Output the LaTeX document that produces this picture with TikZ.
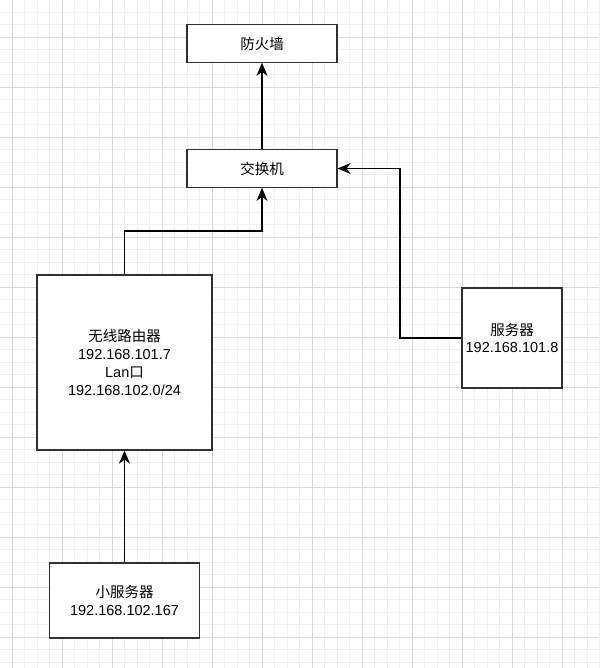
\documentclass[tikz,border=0pt]{standalone}
\usepackage{fontspec}
\setmainfont{Liberation Sans}
\newfontfamily\cjk{Noto Sans CJK SC}
\usetikzlibrary{arrows.meta}
\definecolor{gridminor}{HTML}{F0F0F0}
\definecolor{gridmajor}{HTML}{D9D9D9}
\definecolor{edge}{HTML}{303030}
\begin{document}
\begin{tikzpicture}[
	x=1pt, y=-1pt,
	box/.style={draw=edge, line width=1.2pt, fill=white, inner sep=0pt,
		align=center, font=\fontsize{14.5}{17.8}\selectfont},
	link/.style={draw=black, line width=1.2pt,
		arrows={-Stealth[length=13pt,width=11pt,inset=4pt]}},
	minor/.style={draw=gridminor, line width=0.8pt},
	major/.style={draw=gridmajor, line width=0.8pt},
]
\useasboundingbox (0,0) rectangle (599,668);
\fill[white] (0,0) rectangle (599,668);
% background grid
\foreach \i in {0,...,48} {
	\draw[minor] ({-0.5+12.5*\i},0) -- ({-0.5+12.5*\i},668);
}
\foreach \i in {0,...,54} {
	\draw[minor] (0,{-0.5+12.5*\i}) -- (599,{-0.5+12.5*\i});
}
\foreach \i in {0,...,11} {
	\draw[major] ({12+50*\i},0) -- ({12+50*\i},668);
}
\foreach \i in {0,...,12} {
	\draw[major] (0,{37+50*\i}) -- (599,{37+50*\i});
}
% devices
\node[box, minimum width=150pt, minimum height=37.5pt] (firewall) at (262,43.5) {\cjk 防火墙};
\node[box, minimum width=150pt, minimum height=37.5pt] (switch) at (262,168.5) {\cjk 交换机};
\node[box, minimum width=175pt, minimum height=175pt] (router) at (124.5,362.5)
	{{\cjk 无线路由器}\\192.168.101.7\\Lan{\cjk 口}\\192.168.102.0/24};
\node[box, minimum width=100pt, minimum height=100pt] (server) at (512,338)
	{{\cjk 服务器}\\192.168.101.8};
\node[box, minimum width=150pt, minimum height=75pt] (smallserver) at (124.5,600.5)
	{{\cjk 小服务器}\\192.168.102.167};
% links
\coordinate (bend1) at (124.5,231);
\coordinate (bend2) at (400,338);
\draw[link] (switch) -- (firewall);
\draw[link] (router.north) -- (bend1) -| (switch.south);
\draw[link] (server.west) -- (bend2) |- (switch.east);
\draw[link] (smallserver) -- (router);
\end{tikzpicture}
\end{document}
